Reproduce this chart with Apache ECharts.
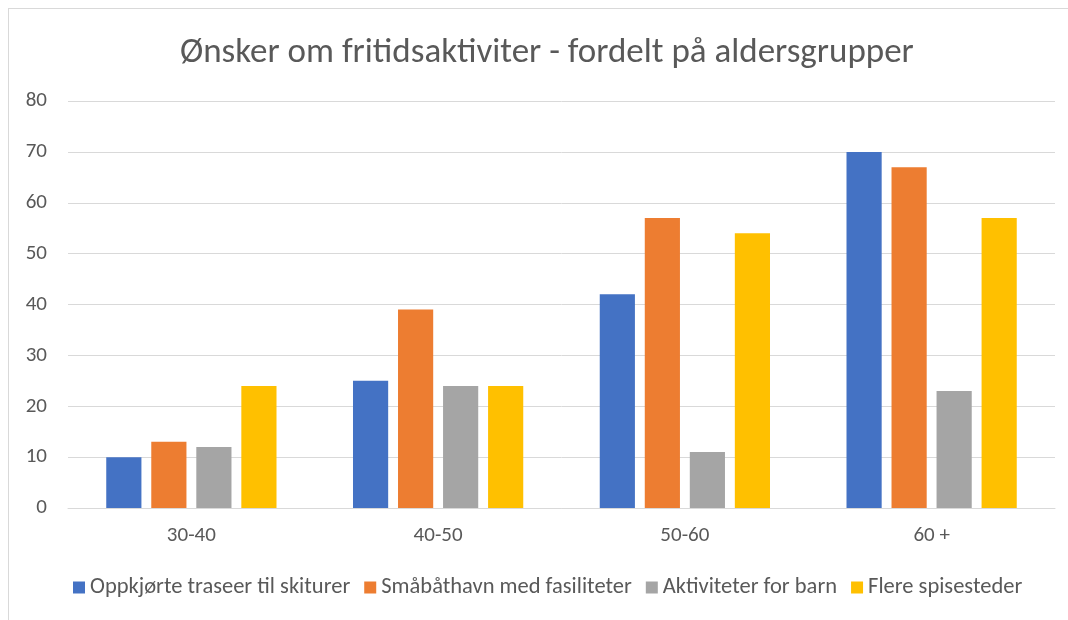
<!DOCTYPE html>
<html>
<head>
<meta charset="utf-8">
<script src="https://cdn.jsdelivr.net/npm/echarts@6/dist/echarts.min.js"></script>
<style>
  html, body { margin: 0; padding: 0; background: #fff; overflow: hidden; }
  #chart { width: 1068px; height: 620px; }
  .frame { position: absolute; left: 8px; top: 8px; width: 1100px; height: 700px; border: 1px solid #d9d9d9; box-sizing: border-box; pointer-events: none; }
</style>
</head>
<body>
<div id="chart"></div>
<div class="frame"></div>
<script>
// aldersgrupper
const ageGroups = ['30-40', '40-50', '50-60', '60 +']
const seriesNames = ['Oppkjørte traseer til skiturer', 'Småbåthavn med fasiliteter', 'Aktiviteter for barn', 'Flere spisesteder']
const skiTracks = [10, 25, 42, 70]
const boatHarbour = [13, 39, 57, 67]
const kidsActivities = [12, 24, 11, 23]
const eateries = [24, 24, 54, 57]

const colors = ['#4472C4', '#ED7D31', '#A5A5A5', '#FFC000']
const textColor = '#595959'
const font = 'Calibri, Carlito, "Open Sans", sans-serif'

const myChart = echarts.init(document.getElementById('chart'))

const values = [skiTracks, boatHarbour, kidsActivities, eateries]

const option = {
  animation: false,
  color: colors,
  title: {
    text: 'Ønsker om fritidsaktiviter - fordelt på aldersgrupper',
    left: 175,
    top: 31,
    textStyle: { color: textColor, fontSize: 35, fontWeight: 'normal', fontFamily: font }
  },
  legend: {
    data: seriesNames,
    top: 571,
    left: 68,
    itemWidth: 12,
    itemHeight: 12,
    itemGap: 14,
    icon: 'rect',
    textStyle: { color: textColor, fontSize: 22.5, fontFamily: font }
  },
  grid: { left: 68, right: 13, top: 101, bottom: 112, outerBoundsMode: 'none', containLabel: false },
  xAxis: {
    type: 'category',
    data: ageGroups,
    axisLine: { lineStyle: { color: '#d9d9d9' } },
    axisTick: { show: false },
    axisLabel: { color: textColor, fontSize: 21, fontFamily: font, margin: 17 }
  },
  yAxis: {
    type: 'value',
    min: 0,
    max: 80,
    interval: 10,
    axisLine: { show: false },
    axisTick: { show: false },
    splitLine: { lineStyle: { color: '#d9d9d9' } },
    axisLabel: { color: textColor, fontSize: 21, fontFamily: font, margin: 21 }
  },
  series: seriesNames.map((name, i) => ({
    name: name,
    type: 'bar',
    data: values[i],
    barGap: '28%',
    barCategoryGap: '31%'
  }))
}

myChart.setOption(option)
</script>
</body>
</html>
